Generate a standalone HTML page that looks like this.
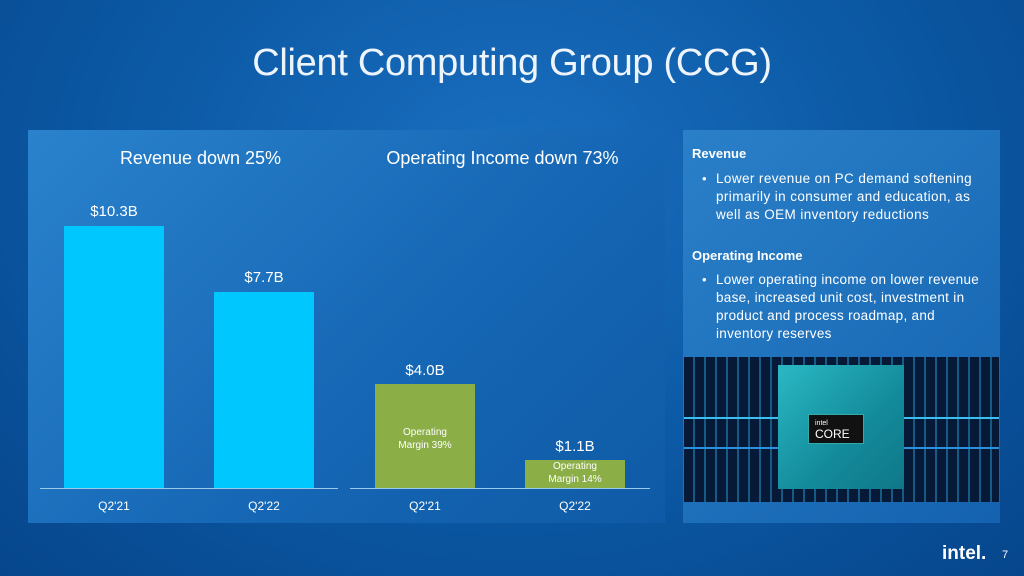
<!DOCTYPE html>
<html><head><style>
body{margin:0;width:1024px;height:576px;overflow:hidden;font-family:"Liberation Sans",sans-serif;color:#fff;
background:radial-gradient(ellipse at 50% 30%,#1a6fc0 0%,#0c5aa6 50%,#06468c 100%);position:relative}
.a{position:absolute}
.t{white-space:nowrap}
</style></head><body>
<div class="a t" style="left:0;width:1024px;top:42px;text-align:center;font-size:38px;color:#eef4fb;letter-spacing:-0.3px">Client Computing Group (CCG)</div>
<div class="a" style="left:28px;top:130px;width:637px;height:393px;background:linear-gradient(135deg,#2a82cc,#1566b4 60%,#0f5aa6)"></div>
<div class="a" style="left:683px;top:130px;width:317px;height:393px;background:linear-gradient(135deg,#2a80c8,#1462b0)"></div>
<div class="a t" style="left:28px;width:345px;top:148px;text-align:center;font-size:18px">Revenue down 25%</div>
<div class="a t" style="left:345px;width:315px;top:148px;text-align:center;font-size:18px">Operating Income down 73%</div>
<div class="a" style="left:64px;top:226px;width:100px;height:263px;background:#00c7fd"></div>
<div class="a" style="left:214px;top:292px;width:100px;height:197px;background:#00c7fd"></div>
<div class="a" style="left:40px;top:488px;width:298px;height:1px;background:#9cc8ea"></div>
<div class="a t" style="left:64px;width:100px;top:203px;text-align:center;font-size:15px">$10.3B</div>
<div class="a t" style="left:214px;width:100px;top:269px;text-align:center;font-size:15px">$7.7B</div>
<div class="a t" style="left:64px;width:100px;top:499px;text-align:center;font-size:12px">Q2'21</div>
<div class="a t" style="left:214px;width:100px;top:499px;text-align:center;font-size:12px">Q2'22</div>
<div class="a" style="left:375px;top:384px;width:100px;height:104px;background:#8bae46"></div>
<div class="a" style="left:525px;top:460px;width:100px;height:28px;background:#8bae46"></div>
<div class="a" style="left:350px;top:488px;width:300px;height:1px;background:#9cc8ea"></div>
<div class="a t" style="left:375px;width:100px;top:362px;text-align:center;font-size:15px">$4.0B</div>
<div class="a t" style="left:525px;width:100px;top:438px;text-align:center;font-size:15px">$1.1B</div>
<div class="a" style="left:375px;width:100px;top:426px;text-align:center;font-size:10px;line-height:13px">Operating<br>Margin 39%</div>
<div class="a" style="left:525px;width:100px;top:460px;text-align:center;font-size:10px;line-height:13px">Operating<br>Margin 14%</div>
<div class="a t" style="left:375px;width:100px;top:499px;text-align:center;font-size:12px">Q2'21</div>
<div class="a t" style="left:525px;width:100px;top:499px;text-align:center;font-size:12px">Q2'22</div>
<div class="a t" style="left:692px;top:146px;font-size:13px;font-weight:bold">Revenue</div>
<div class="a" style="left:702px;top:170px;font-size:13px;line-height:18px">•</div>
<div class="a t" style="left:716px;top:170px;font-size:13.5px;line-height:18px;letter-spacing:0.4px">Lower revenue on PC demand softening<br>primarily in consumer and education, as<br>well as OEM inventory reductions</div>
<div class="a t" style="left:692px;top:248px;font-size:13px;font-weight:bold">Operating Income</div>
<div class="a" style="left:702px;top:271px;font-size:13px;line-height:18px">•</div>
<div class="a t" style="left:716px;top:271px;font-size:13.5px;line-height:18px;letter-spacing:0.3px">Lower operating income on lower revenue<br>base, increased unit cost, investment in<br>product and process roadmap, and<br>inventory reserves</div>
<div class="a" style="left:684px;top:357px;width:315px;height:145px;background:
repeating-linear-gradient(90deg,transparent 0 9px,rgba(40,170,230,.45) 9px 11px),#061a38;overflow:hidden">
<div class="a" style="left:0;top:60px;width:315px;height:2px;background:#3ac0f0"></div>
<div class="a" style="left:0;top:90px;width:315px;height:2px;background:#2a90e0"></div>
<div class="a" style="left:94px;top:8px;width:126px;height:124px;background:linear-gradient(135deg,#2ab8c4,#138a9a 60%,#0f7888)"></div>
<div class="a" style="left:124px;top:57px;width:56px;height:30px;background:#111;border:1px solid #3aa;font-size:7px;line-height:8px;padding-left:6px;box-sizing:border-box;padding-top:5px">intel<br><span style="font-size:12px;line-height:12px">CORE</span></div>
</div>
<div class="a t" style="left:942px;top:543px;font-size:19px;font-weight:bold">intel.</div>
<div class="a t" style="left:1002px;top:549px;font-size:11px">7</div>
</body></html>
